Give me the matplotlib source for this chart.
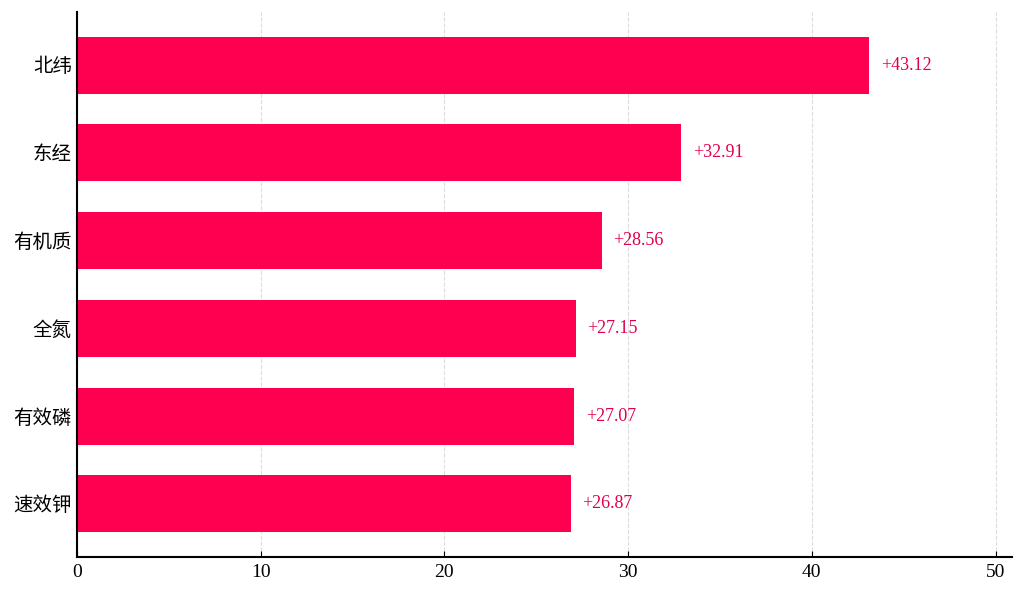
import matplotlib.pyplot as plt

plt.rcParams['font.family'] = ['Liberation Serif', 'Noto Sans CJK SC']

names = ['北纬', '东经', '有机质', '全氮', '有效磷', '速效钾']
values = [43.12, 32.91, 28.56, 27.15, 27.07, 26.87]
bar_color = '#FF0050'

fig = plt.figure(figsize=(10.24, 5.94), dpi=100)
ax = fig.add_axes([0.075, 0.062, 0.913, 0.918])

ypos = list(range(len(names)))[::-1]
ax.barh(ypos, values, height=0.65, color=bar_color, zorder=2)

for y, v in zip(ypos, values):
    ax.text(v + max(values) * 0.015, y, f'+{v:.2f}', va='center', ha='left',
            color='#E0004A', fontsize=13)

ax.set_yticks(ypos)
ax.set_yticklabels(names, fontsize=14, fontweight='light')
ax.set_xlim(0, max(values) * 1.18)
ax.set_xticks([0, 10, 20, 30, 40, 50])
ax.tick_params(axis='x', labelsize=14, direction='in', length=4, pad=5)
ax.tick_params(axis='y', direction='in', length=4)
ax.grid(axis='x', linestyle='--', color='#dddddd', linewidth=0.8, zorder=0)
ax.set_axisbelow(True)
for s in ['top', 'right']:
    ax.spines[s].set_visible(False)
for s in ['left', 'bottom']:
    ax.spines[s].set_linewidth(1.5)

fig.savefig('out.png', dpi=100)
